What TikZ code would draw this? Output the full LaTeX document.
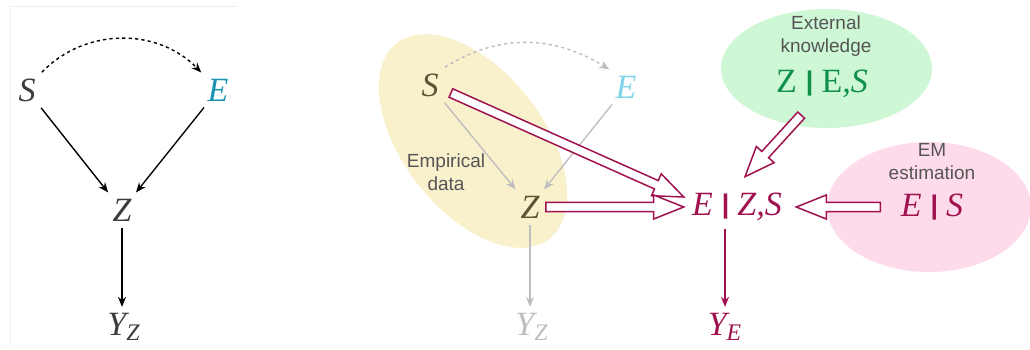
\documentclass[tikz,border=0pt]{standalone}
\usepackage{fontspec}
\setmainfont{Liberation Serif}
\setsansfont{Liberation Sans}
\usetikzlibrary{arrows.meta,positioning,shapes.geometric,calc}

\definecolor{ink}{HTML}{3C3C3C}
\definecolor{olive}{HTML}{5B5535}
\definecolor{tealE}{HTML}{1A93B3}
\definecolor{cyanE}{HTML}{7DD3E8}
\definecolor{fade}{HTML}{BEBEBE}
\definecolor{crim}{HTML}{A0124F}
\definecolor{gtext}{HTML}{0E8F4A}
\definecolor{lblgrey}{HTML}{555555}
\definecolor{yel}{HTML}{F8F1CC}
\definecolor{grn}{HTML}{CDF7D5}
\definecolor{pnk}{HTML}{FDDBEA}
\definecolor{framecol}{HTML}{EEEEEE}

\newcommand{\gbar}{\raisebox{1.2pt}{\sffamily\bfseries\fontsize{13.5}{13.5}\selectfont|}}
\newcommand{\blockarrow}[2]{%
  \coordinate (ba) at (#1); \coordinate (bb) at (#2);
  \coordinate (bh) at ($(bb)!15pt!(ba)$);
  \path[block] ($(ba)!2.3pt!90:(bb)$) -- ($(bh)!2.3pt!90:(bb)$) -- ($(bh)!6pt!90:(bb)$) -- (bb)
    -- ($(bh)!6pt!-90:(bb)$) -- ($(bh)!2.3pt!-90:(bb)$) -- ($(ba)!2.3pt!-90:(bb)$) -- cycle;}

\begin{document}
\begin{tikzpicture}[x=0.5pt,y=0.5pt,
  var/.style={font=\fontsize{17}{20}\selectfont\itshape,inner sep=3pt},
  lbl/.style={font=\sffamily\fontsize{9.5}{11.5}\selectfont,text=lblgrey,align=center},
  arr/.style={-{Stealth[length=5pt,width=4pt]},line width=0.7pt},
  dotarr/.style={dash pattern=on 1.6pt off 1.6pt},
  blob/.style={ellipse,inner sep=0pt,draw=none},
  block/.style={draw=crim,fill=white,line width=0.75pt,line join=miter}]
\useasboundingbox (0,0) rectangle (1030,349);
% left: the causal graph
\draw[framecol,line width=0.5pt] (237,342) -- (10,342) -- (10,4);
\node[var,text=ink] (S1) at (27,259) {S};
\node[var,text=tealE] (E1) at (218,259) {E};
\node[var,text=ink] (Z1) at (122,139) {Z};
\node[var,text=ink] (Y1) at (124,22) {Y\textsubscript{Z}};
\draw[arr,dotarr] (S1.north east) to[out=46,in=134] (E1.north west);
\draw[arr] (S1) -- (Z1);
\draw[arr] (E1) -- (Z1);
\draw[arr] (Z1.south) -- (Z1.south |- Y1.north);

% right: the sources of each factor
\node[blob,fill=yel,minimum width=124pt,minimum height=70pt,rotate=-52] (emp) at (473,208) {};
\node[blob,fill=grn,minimum width=105.5pt,minimum height=59.5pt] (know) at (826.5,280.5) {};
\node[blob,fill=pnk,minimum width=102pt,minimum height=65pt] (em) at (929,142) {};
\node[lbl] (emplbl) at (446,177) {Empirical\\data};
\node[lbl] (knowlbl) at (826,313) {External\\knowledge};
\node[lbl] (emlbl) at (932,187) {EM\\estimation};

\node[var,text=olive] (S2) at (430,264) {S};
\node[var,text=cyanE] (E2) at (626,262) {E};
\node[var,text=olive] (Z2) at (530,142) {Z};
\node[var,text=fade] (Y2) at (532,22) {Y\textsubscript{Z}};
\draw[arr,fade,dotarr] (S2.north east) to[out=32,in=148] (E2.north west);
\draw[arr,fade] (S2) -- (Z2);
\draw[arr,fade] (E2) -- (Z2);
\draw[arr,fade] (Z2.south) -- (Z2.south |- Y2.north);

\node[var,text=crim,inner sep=4pt] (ezs) at (737,142) {E \gbar{} Z,S};
\node[var,text=gtext] (kze) at (822,265) {\textup{Z} \gbar{} \textup{E},S};
\node[var,text=crim] (es) at (932,142) {E \gbar{} S};
\node[var,text=crim] (Ye) at (725,22) {Y\textsubscript{E}};
\draw[arr,crim] (Ye.north |- ezs.south) -- (Ye.north);

\blockarrow{[shift={(3pt,-4pt)}]S2.east}{[yshift=5pt]ezs.west}
\blockarrow{Z2.east}{ezs.west}
\blockarrow{[shift={(-2pt,6pt)}]know.250}{[shift={(4pt,4pt)}]ezs.north}
\blockarrow{[xshift=-7pt]es.west}{[xshift=3pt]ezs.east}
\end{tikzpicture}
\end{document}
